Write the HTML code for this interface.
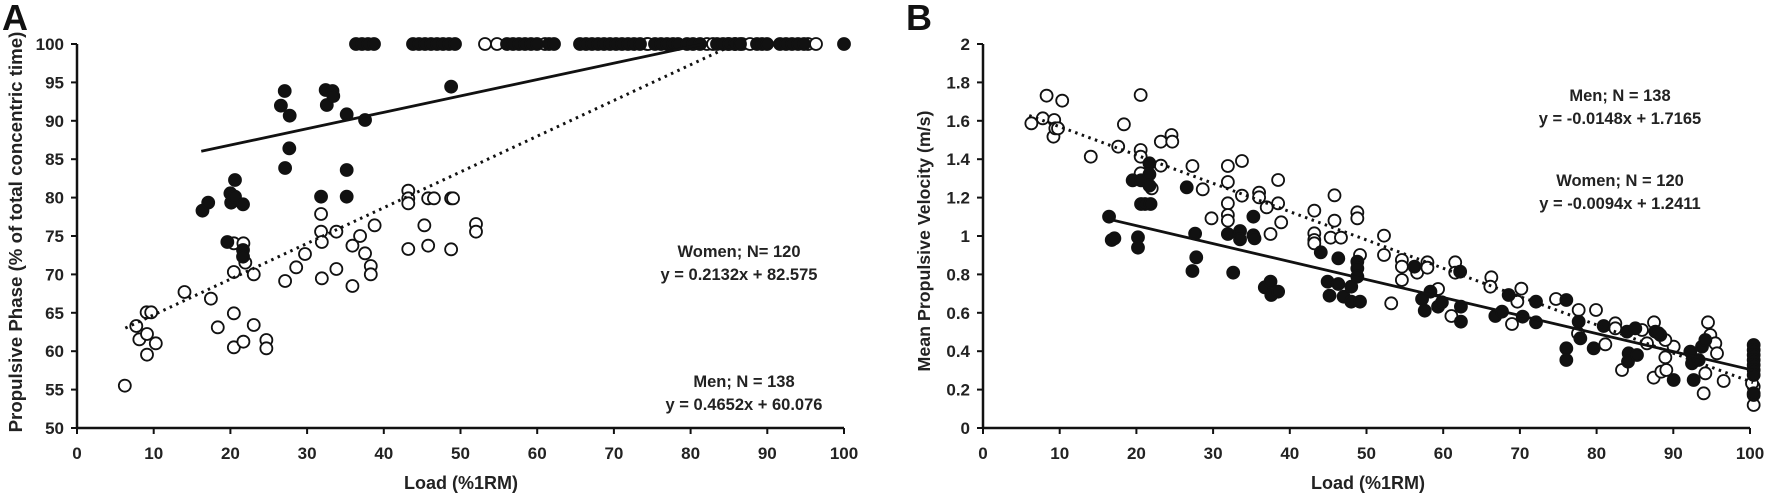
<!DOCTYPE html>
<html><head><meta charset="utf-8">
<style>
html,body{margin:0;padding:0;background:#fff;}
svg{display:block;font-family:"Liberation Sans",Arial,sans-serif;font-weight:bold;}
</style></head>
<body>
<svg id="s" width="1772" height="497" viewBox="0 0 1772 497" xmlns="http://www.w3.org/2000/svg">
<rect width="1772" height="497" fill="#fff"/>
<text x="2" y="30" font-size="36" fill="#111">A</text>
<text x="906" y="30" font-size="36" fill="#111">B</text>
<g id="axA"></g><g id="axB"></g>
<g id="pts"></g>
<text transform="translate(22,232) rotate(-90)" text-anchor="middle" font-size="18.7" fill="#222">Propulsive Phase (% of total concentric time)</text>
<text transform="translate(930,241) rotate(-90)" text-anchor="middle" font-size="17.8" fill="#222">Mean Propulsive Velocity (m/s)</text>
<text x="461" y="489" text-anchor="middle" font-size="18" fill="#222">Load (%1RM)</text>
<text x="1368" y="489" text-anchor="middle" font-size="18" fill="#222">Load (%1RM)</text>
<g font-size="16.5" fill="#222" text-anchor="middle">
<text x="739" y="257">Women; N= 120</text>
<text x="739" y="280">y = 0.2132x + 82.575</text>
<text x="744" y="387">Men; N = 138</text>
<text x="744" y="410">y = 0.4652x + 60.076</text>
<text x="1620" y="101">Men; N = 138</text>
<text x="1620" y="124">y = -0.0148x + 1.7165</text>
<text x="1620" y="186">Women; N = 120</text>
<text x="1620" y="209">y = -0.0094x + 1.2411</text>
</g>
</svg>
<script>
var NS="http://www.w3.org/2000/svg",s=document.getElementById('s');
function el(t,a,p){var e=document.createElementNS(NS,t);for(var k in a)e.setAttribute(k,a[k]);(p||s).appendChild(e);return e;}
function axes(x0,tickFmt,ymin,ymax,step){
 var x1=x0+767,y0=428,yt=44;
 el('line',{x1:x0,y1:yt,x2:x0,y2:y0,stroke:'#111','stroke-width':2.5});
 el('line',{x1:x0,y1:y0,x2:x1,y2:y0,stroke:'#111','stroke-width':2.5});
 for(var i=0;i<=10;i++){var x=x0+i*76.7;
  el('line',{x1:x,y1:y0,x2:x,y2:y0+6,stroke:'#111','stroke-width':2});
  var t=el('text',{x:x,y:459,'text-anchor':'middle','font-size':17,fill:'#222'});t.textContent=i*10;}
 var n=Math.round((ymax-ymin)/step);
 for(var j=0;j<=n;j++){var y=y0-(y0-yt)*j/n;
  el('line',{x1:x0-6,y1:y,x2:x0,y2:y,stroke:'#111','stroke-width':2});
  var t=el('text',{x:x0-13,y:y+6,'text-anchor':'end','font-size':17,fill:'#222'});t.textContent=tickFmt(ymin+j*step);}
}
axes(77,function(v){return Math.round(v);},50,100,5);
axes(983,function(v){v=Math.round(v*10)/10;return String(v);},0,2,0.2);
function c(x,y,f){el('circle',{cx:x,cy:y,r:6,fill:f?'#111':'#fff',stroke:'#111','stroke-width':1.8});}
function ax(X){return 77+(X-202)/20.05*7.67;}
var Ao=[[327,1157],[357,978],[365,1018],[385,1002],[385,1064],[384,937],[396,937],[408,1030],[483,876],[552,896],[570,982],[612,1042],[612,940],[612,816],[612,730],[637,1025],[637,730],[642,788],[664,975],[664,823],[697,1020],[697,1045],[746,843],[775,802],[798,762],[840,642],[840,695],[842,726],[842,835],[880,695],[880,807],[922,858],[922,737],[942,708],[955,760],[970,798],[970,823],[980,676],[1068,572],[1068,595],[1068,610],[1068,747],[1110,676],[1120,595],[1120,737],[1135,595],[1180,748],[1180,595],[1185,595],[1245,672],[1245,695]];
var Af=[[530,632],[545,608],[595,726],[603,580],[605,608],[615,540],[615,590],[636,613],[636,750],[636,770],[735,317],[745,273],[758,347],[757,445],[746,504],[852,270],[855,315],[870,273],[872,288],[840,590],[907,343],[907,510],[907,590],[955,360],[1180,260]];
Ao.forEach(function(p){c(ax(p[0]),p[1]/3,0);});
Af.forEach(function(p){c(ax(p[0]),p[1]/3,1);});
var topO=[485,497,545,647,648,707,713,728,735,742,750,808,816];
var topF=[356,362,368,374,413,419,425,431,437,443,449,455,507,513,519,525,531,537,549,554,580,586,592,598,604,610,616,622,628,634,640,655,661,667,673,678,687,693,700,717,723,729,735,740,757,762,767,780,786,792,798,804,844];
topO.forEach(function(x){c(x,44,0);});topF.forEach(function(x){c(x,44,1);});
function pA(x,y){return [77+x*7.67,428-(y-50)*7.68];}
var a=pA(16.2,82.575+0.2132*16.2),b=pA(81.7,100);
el('line',{x1:a[0],y1:a[1],x2:b[0],y2:b[1],stroke:'#111','stroke-width':2.8});
a=pA(6.3,60.076+0.4652*6.3);b=pA(85.8,100);
el('line',{x1:a[0],y1:a[1],x2:b[0],y2:b[1],stroke:'#111','stroke-width':3,'stroke-dasharray':'2.5 4.5'});
function bx(X){return 983+(X-265)/20.22*7.7;}
var Bo=[[392,370],[422,355],[432,287],[452,360],[450,410],[455,385],[462,385],[473,302],[548,470],[620,440],[635,373],[679,285],[679,450],[679,470],[679,520],[708,565],[732,425],[732,497],[760,405],[762,425],[815,498],[842,568],[865,655],[908,498],[908,546],[908,610],[908,645],[908,662],[945,587],[945,483],[990,578],[990,592],[1010,622],[1020,702],[1040,540],[1040,610],[1048,667],[1135,632],[1135,700],[1135,720],[1135,730],[1178,713],[1188,586],[1188,662],[1205,713],[1248,637],[1248,655],[1255,765],[1318,707],[1318,765],[1337,910],[1365,780],[1365,800],[1365,840],[1405,818],[1432,787],[1432,803],[1460,867],[1495,948],[1505,787],[1505,818]];
var Bf=[[596,650],[603,720],[610,715],[658,541],[672,712],[672,743],[680,541],[680,612],[690,612],[702,490],[702,523],[702,557],[705,612],[800,562],[815,813],[825,772],[822,701],[908,702],[922,818],[940,693],[940,718],[975,650],[975,706],[978,715],[1005,862],[1020,845],[1022,885],[1040,875],[1152,757],[1170,845],[1175,887],[1198,775],[1198,852],[1212,890],[1232,860],[1232,905],[1248,785],[1248,805],[1248,830],[1255,905],[1398,800],[1418,897],[1425,932],[1440,875],[1460,920],[1470,907],[1518,815],[1520,920],[1520,965]];
Bo.forEach(function(p){c(bx(p[0]),p[1]/3,0);});
Bf.forEach(function(p){c(bx(p[0]),p[1]/3,1);});
var Ro=[[58,832],[55,860],[148,866],[136,905],[252,897],[120,972],[320,930],[372,930],[400,1033],[430,970],[450,1110],[546,967],[545,1133],[568,1115],[583,1110],[580,1072],[605,1040],[525,1030],[580,1020],[510,990],[708,967],[715,1005],[730,1030],[735,1060],[700,1120],[755,1143],[695,1180],[845,1160],[845,1215],[430,985],[318,1000],[840,1150],[845,1185]];
var Rf=[[70,948],[90,935],[110,885],[152,950],[192,905],[192,967],[283,900],[283,1045],[283,1080],[320,965],[325,1015],[365,1045],[395,978],[465,995],[490,985],[470,1060],[468,1085],[495,1065],[550,995],[565,1005],[605,1140],[665,1140],[655,1055],[660,1090],[690,1040],[700,1020],[560,1000],[680,1080],[845,1035],[845,1050],[845,1065],[845,1080],[845,1095],[845,1110],[845,1125],[845,1180]];
Ro.forEach(function(p){c(1472+p[0]/3,p[1]/3,0);});
Rf.forEach(function(p){c(1472+p[0]/3,p[1]/3,1);});
function pB(x,y){return [983+x*7.7,428-y*192];}
a=pB(16.2,1.2411-0.0094*16.2);b=pB(100,1.2411-0.94);
el('line',{x1:a[0],y1:a[1],x2:b[0],y2:b[1],stroke:'#111','stroke-width':2.8});
a=pB(6,1.7165-0.0148*6);b=pB(100,1.7165-1.48);
el('line',{x1:a[0],y1:a[1],x2:b[0],y2:b[1],stroke:'#111','stroke-width':3,'stroke-dasharray':'2.5 4.5'});
</script>
</body></html>
